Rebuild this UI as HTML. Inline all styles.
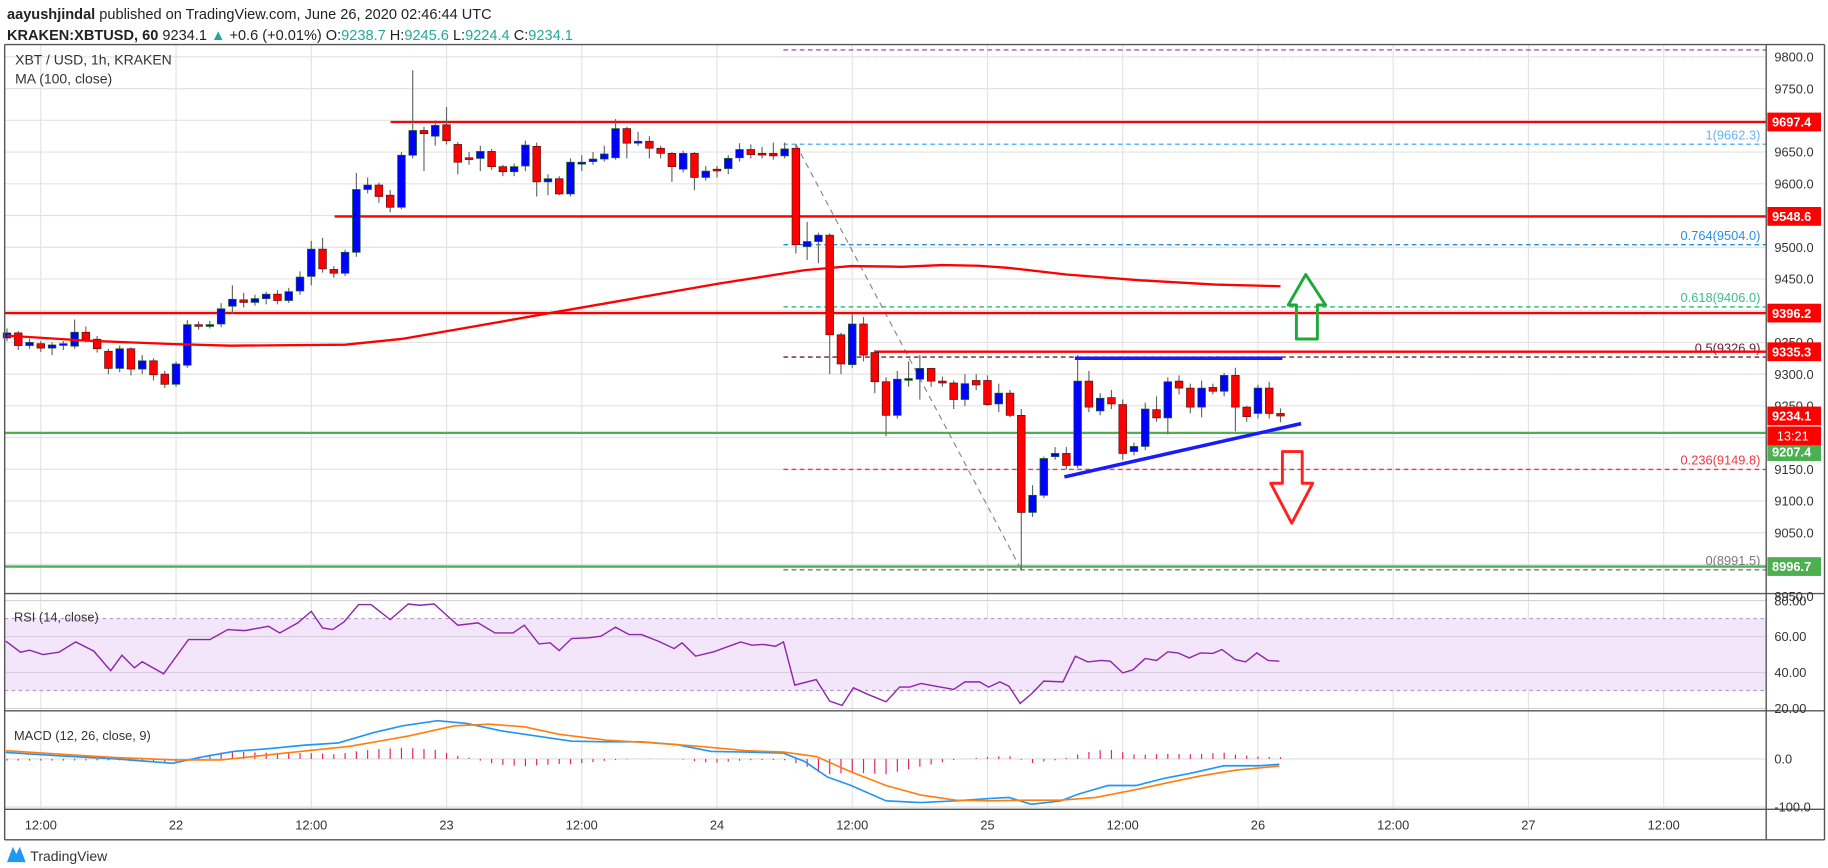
<!DOCTYPE html>
<html><head><meta charset="utf-8"><style>
html,body{margin:0;padding:0;background:#fff;width:1828px;height:868px;overflow:hidden}
svg{display:block}
text{font-family:"Liberation Sans",sans-serif}
</style></head><body>
<svg id="chart" width="1828" height="868" viewBox="0 0 1568 740" preserveAspectRatio="none" xmlns="http://www.w3.org/2000/svg">
<text x="6" y="16" font-size="12.5" fill="#222"><tspan font-weight="bold">aayushjindal</tspan> published on TradingView.com, June 26, 2020 02:46:44 UTC</text>
<text x="6" y="34" font-size="12.5" fill="#222"><tspan font-weight="bold">KRAKEN:XBTUSD, 60</tspan> 9234.1 <tspan fill="#26a69a">▲</tspan> +0.6 (+0.01%) O:<tspan fill="#26a69a">9238.7</tspan> H:<tspan fill="#26a69a">9245.6</tspan> L:<tspan fill="#26a69a">9224.4</tspan> C:<tspan fill="#26a69a">9234.1</tspan></text>
<g id="grid"></g>
<g id="main"></g>
<g id="rsi"></g>
<g id="macd"></g>
<g id="axes"></g>
</svg>
<script>
const candleHours=[-3,-2,-1,0,1,2,3,4,5,6,7,8,9,10,11,12,13,14,15,16,17,18,19,20,21,22,23,24,25,26,27,28,29,30,31,32,33,34,35,36,37,38,39,40,41,42,43,44,45,46,47,48,49,50,51,52,53,54,55,56,57,58,59,60,61,62,63,64,65,66,67,68,69,70,71,72,73,74,75,76,77,78,79,80,81,82,83,84,85,86,87,88,89,90,91,92,93,94,95,96,97,98,99,100,101,102,103,104,105,106,107,108,109,110];
const opens=[9357,9365,9345,9348,9341,9347,9344,9366,9355,9336,9309,9340,9308,9321,9300,9284,9314,9378,9377,9379,9407,9417,9413,9419,9426,9416,9431,9454,9497,9465,9459,9492,9591,9598,9582,9563,9645,9684,9675,9693,9662,9641,9640,9651,9627,9619,9628,9659,9603,9608,9584,9631,9635,9639,9641,9687,9664,9667,9656,9648,9623,9648,9610,9623,9624,9641,9654,9648,9648,9644,9656,9501,9509,9519,9362,9315,9379,9334,9288,9235,9292,9292,9309,9289,9286,9260,9290,9290,9253,9270,9235,9082,9109,9170,9175,9156,9289,9242,9263,9252,9178,9186,9244,9231,9289,9278,9248,9279,9273,9298,9248,9238,9278,9238];
const closes=[9365,9345,9350,9341,9346,9348,9366,9355,9340,9309,9340,9308,9321,9299,9284,9316,9378,9377,9378,9403,9418,9413,9419,9426,9416,9430,9453,9497,9466,9459,9492,9591,9598,9580,9563,9645,9684,9679,9692,9668,9634,9640,9651,9627,9619,9627,9661,9603,9608,9584,9634,9634,9639,9647,9687,9664,9667,9656,9648,9627,9648,9610,9620,9622,9640,9654,9646,9646,9644,9655,9504,9509,9519,9362,9316,9379,9330,9288,9235,9292,9293,9309,9289,9286,9260,9285,9283,9252,9270,9235,9082,9109,9167,9175,9156,9289,9248,9262,9253,9175,9186,9245,9231,9288,9278,9248,9278,9273,9298,9248,9233,9278,9238,9234];
const highs=[9372,9368,9356,9352,9350,9352,9386,9375,9360,9340,9345,9342,9330,9325,9305,9320,9385,9383,9384,9412,9440,9428,9425,9430,9432,9436,9462,9510,9515,9470,9496,9617,9610,9602,9590,9650,9779,9690,9700,9721,9666,9650,9660,9655,9630,9632,9668,9665,9615,9612,9640,9645,9650,9660,9702,9690,9682,9675,9660,9650,9652,9650,9628,9628,9645,9664,9662,9658,9665,9665,9662,9540,9523,9522,9365,9395,9390,9338,9295,9305,9320,9330,9310,9296,9290,9300,9300,9298,9285,9275,9245,9125,9170,9185,9185,9330,9305,9270,9275,9260,9192,9255,9265,9295,9298,9285,9290,9285,9302,9310,9250,9283,9288,9246];
const lows=[9352,9338,9340,9335,9330,9338,9340,9350,9334,9300,9303,9298,9300,9290,9278,9280,9310,9370,9372,9374,9395,9405,9408,9410,9410,9412,9425,9440,9460,9452,9455,9485,9585,9570,9555,9560,9640,9620,9660,9662,9615,9630,9620,9622,9612,9612,9620,9580,9582,9582,9580,9620,9630,9635,9638,9640,9660,9640,9640,9603,9618,9590,9605,9610,9615,9635,9640,9640,9638,9640,9490,9480,9475,9300,9300,9310,9320,9270,9202,9230,9280,9260,9280,9280,9245,9250,9275,9250,9240,9232,8991,9075,9105,9165,9150,9152,9240,9235,9245,9165,9172,9180,9225,9205,9268,9238,9232,9268,9265,9210,9225,9230,9230,9224];
const maHours=[-3,4,11.6,16.8,27,32,37.2,44.8,52.5,60.2,67.8,71.9,76.4,80,83.2,85.8,91,97.4,104.2,110];
const maValues=[9360.7,9352.8,9347.5,9344.8,9346.4,9355.4,9371.3,9395.1,9418.9,9442.8,9463.9,9470.3,9469.2,9471.9,9470.8,9467.6,9457,9448,9441.2,9438.5];
const rsiHours=[-3.1,-1.8,-1,0.2,1.6,3.1,4.7,6.2,7.2,8.3,9,10.9,13.1,15,16.6,18.1,20.2,21.2,22.8,24,25,25.9,26.9,28.2,29.3,31,32.6,33.6,34.9,37,38.8,40.3,41.9,42.9,44.2,45.2,46,47.1,48.6,49.7,51,52.2,53.3,54.8,56.2,56.9,58.1,59.7,62.1,63.1,64.1,65.2,65.9,66.9,68.8,70,71.1,72.1,73.4,75,76.2,77.1,78.1,79.4,81,82,83.3,84.1,85.1,85.9,86.9,87.9,89,90.7,91.8,92.9,94.1,94.9,96,96.9,98,99,100,100.9,101.9,102.9,104,104.8,106,106.9,107.9,108.9,109.9];
const rsiValues=[57.4,51.3,52.4,50,51.3,57,51.9,41,49.6,42.6,46,39.3,58.3,58.3,63.9,63.3,65.7,62,67.6,74,64.8,63.9,68.1,77.8,77.8,69.4,78.1,77.4,78.1,66.3,67.6,62,62,66.3,55.9,56.5,52.2,58.9,59.3,60.2,65.2,61.1,61.1,57.4,53.3,56.5,49.1,51.5,57,55.2,55.6,54.6,57,33,36.1,24.1,21.7,31.5,27.8,23.7,31.9,31.9,33.9,32.4,30.6,34.8,34.8,31.9,34.8,32.4,22.8,28.1,35.2,34.8,49.1,45.9,46.7,46.3,39.8,41.5,47.8,46.7,51.5,50.9,48.1,50.9,50.6,52.8,47.2,45.9,50.9,46.7,46.3];
const macdHours=[-3.1,1.6,6.7,11.7,14.5,17.1,20.2,23.3,26.4,29.5,32.1,35.2,37.8,40.9,44,47.1,50.2,53.3,56.4,59.5,62.6,65.9,67.8,69.8,71.9,75,78.1,81.2,84.3,85.9,87.9,90.5,92.1,94.7,97.2,99.8,101.9,105,108.1,109.9];
const macdValues=[13.5,6.4,0,-9.2,5,15.6,21.3,28.4,33.3,54.6,68.8,79.4,73.8,58.2,47.5,36.9,35.5,35.5,29.8,15.6,14.2,12.1,-5.7,-37.6,-55.3,-87.2,-90.8,-87.2,-82.3,-80.1,-94.3,-87.2,-73,-55.3,-55.3,-39.7,-30.5,-14.2,-14.2,-11.3];
const signalHours=[-3.1,2.6,6.7,11.9,16,20.2,27.4,32.6,36.7,39.8,42.9,46,50.2,54.3,58.4,62.6,65.9,68.8,71.9,75,78.1,81.2,84.3,87.4,90.5,93.6,96.7,99.8,102.9,106,109.9];
const signalValues=[17,8.5,2.8,-2.1,-2.1,8.5,26.2,47.5,68.8,72.3,66.7,51.1,39,33.3,26.2,17,14.2,5,-27,-55.3,-75.2,-85.8,-87.2,-85.8,-85.8,-80.1,-66,-50.4,-35.5,-23.4,-14.9];
const priceTicks=[9800,9750,9700,9650,9600,9550,9500,9450,9400,9350,9300,9250,9200,9150,9100,9050,9000,8950,8900,8850];
const timeTicks=[0,12,24,36,48,60,72,84,96,108,120,132,144];
const timeLabels=["12:00","22","12:00","23","12:00","24","12:00","25","12:00","26","12:00","27","12:00"];
const rsiTicks=[80,60,40,20];
const macdTicks=[0,-100];

const NS="http://www.w3.org/2000/svg";
const PL=4,PR=1515,MT=38,MB=506,RT=507,RB=606,CT=607,CB=690;
const X=h=>35+h*9.667;
const Y=p=>104+(9697.4-p)*0.5409;
const RY=v=>604-(v-20)*1.533;
const MY=v=>647-v*0.41;
function mk(parent,tag,attrs){const e=document.createElementNS(NS,tag);for(const k in attrs)e.setAttribute(k,attrs[k]);document.getElementById(parent).appendChild(e);return e;}
function interp(hs,vs,h){if(h<=hs[0])return vs[0];for(let i=1;i<hs.length;i++){if(h<=hs[i]){const t=(h-hs[i-1])/(hs[i]-hs[i-1]);return vs[i-1]+t*(vs[i]-vs[i-1]);}}return vs[vs.length-1];}

// grid
timeTicks.forEach(h=>{const l=mk('grid','line',{x1:X(h),x2:X(h),y1:MT,y2:CB,stroke:'#e3e3e3','stroke-width':1});

});
priceTicks.forEach(p=>{if(Y(p)<MT||Y(p)>MB)return;const l=mk('grid','line',{x1:PL,x2:PR,y1:Y(p),y2:Y(p),stroke:'#e3e3e3','stroke-width':1});

});
// RSI band
{const b=mk('rsi','rect',{x:PL,y:RY(70),width:PR-PL,height:RY(30)-RY(70),fill:'#f3e6fb'});

}
rsiTicks.forEach(v=>{const l=mk('rsi','line',{x1:PL,x2:PR,y1:RY(v),y2:RY(v),stroke:'#d8d0dc','stroke-width':1});

});
[70,30].forEach(v=>{const l=mk('rsi','line',{x1:PL,x2:PR,y1:RY(v),y2:RY(v),stroke:'#b79cc2','stroke-width':1,'stroke-dasharray':'3,3'});

});
macdTicks.forEach(v=>{const l=mk('macd','line',{x1:PL,x2:PR,y1:MY(v),y2:MY(v),stroke:'#dedede','stroke-width':1});

});

// purple dashed top
{const l=mk('main','line',{x1:672,x2:PR,y1:Y(9811),y2:Y(9811),stroke:'#9c27b0','stroke-width':1,'stroke-dasharray':'4,3'});

}
// fib levels
const fibLevels=[["1(9662.3)",9662.3,"#64b5f6"],["0.764(9504.0)",9504,"#2a8fd6"],["0.618(9406.0)",9406,"#3dbb8f"],["0.5(9326.9)",9326.9,"#6d1b3a"],["0.236(9149.8)",9149.8,"#f23645"],["0(8991.5)",8991.5,"#777"]];
fibLevels.forEach(f=>{const l=mk('main','line',{x1:672,x2:PR,y1:Y(f[1]),y2:Y(f[1]),stroke:f[2],'stroke-width':1.2,'stroke-dasharray':'4,3'});


const t=mk('main','text',{x:1510,y:Y(f[1])-4,'font-size':11,fill:f[2],'text-anchor':'end'});t.textContent=f[0];

});
// fib diagonal
{const l=mk('main','line',{x1:X(67),y1:Y(9662.3),x2:X(87),y2:Y(8991.5),stroke:'#888','stroke-width':1,'stroke-dasharray':'5,4'});

}
// levels
const levelLines=[[9697.4,335,'#ff0000'],[9548.6,287,'#ff0000'],[9396.2,4,'#ff0000'],[9335.3,750,'#ff0000'],[9207.4,4,'#4caf50'],[8996.7,4,'#4caf50']];
levelLines.forEach(L=>{const l=mk('main','line',{x1:L[1],x2:PR,y1:Y(L[0]),y2:Y(L[0]),stroke:L[2],'stroke-width':2});

});
// candles
candleHours.forEach((h,i)=>{const x=X(h),o=opens[i],c=closes[i];
const w=mk('main','line',{x1:x,x2:x,y1:Y(highs[i]),y2:Y(lows[i]),stroke:'#666','stroke-width':1});


const top=Y(Math.max(o,c)),bot=Y(Math.min(o,c));
const b=mk('main','rect',{x:x-3.3,y:top,width:6.6,height:Math.max(1.5,bot-top),fill:c>=o?'#0000ff':'#ff0000',stroke:c>=o?'#1b5e20':'#5d1010','stroke-width':0.6});

});
// MA
{let d='';maHours.forEach((h,i)=>{d+=(i?'L':'M')+X(h)+','+Y(maValues[i]);});
const p=mk('main','path',{d:d,fill:'none',stroke:'#ff0000','stroke-width':2});

}
// blue trend lines
{const l=mk('main','line',{x1:922,x2:1100,y1:Y(9325),y2:Y(9325),stroke:'#1a1aff','stroke-width':3});


const l2=mk('main','line',{x1:913,x2:1116,y1:Y(9138),y2:Y(9222),stroke:'#1a1aff','stroke-width':3});

}
// arrows
{const a=mk('main','path',{d:'M1120,234 L1137,260 L1130,260 L1130,289 L1112,289 L1112,260 L1105,260 Z',fill:'none',stroke:'#1fa83a','stroke-width':2.5,'stroke-linejoin':'round'});


const b=mk('main','path',{d:'M1100,385 L1117,385 L1117,412 L1126,412 L1108,446 L1090,412 L1100,412 Z',fill:'none',stroke:'#ff2020','stroke-width':2.5,'stroke-linejoin':'round'});

}
// RSI line
{let d='';rsiHours.forEach((h,i)=>{d+=(i?'L':'M')+X(h)+','+RY(rsiValues[i]);});
const p=mk('rsi','path',{d:d,fill:'none',stroke:'#8e24aa','stroke-width':1.2});

}
// MACD histogram
candleHours.forEach(h=>{const v=interp(macdHours,macdValues,h)-interp(signalHours,signalValues,h);
const r=mk('macd','line',{x1:X(h),x2:X(h),y1:MY(0),y2:MY(v),stroke:'#e91e63','stroke-width':1});

});
{let d='';macdHours.forEach((h,i)=>{d+=(i?'L':'M')+X(h)+','+MY(macdValues[i]);});
const p=mk('macd','path',{d:d,fill:'none',stroke:'#2196f3','stroke-width':1.4});


let d2='';signalHours.forEach((h,i)=>{d2+=(i?'L':'M')+X(h)+','+MY(signalValues[i]);});
const s=mk('macd','path',{d:d2,fill:'none',stroke:'#ff7f0e','stroke-width':1.4});

}

// frame + separators
[[PL,MT,1565,MT],[PL,MT,PL,716],[PL,MB,1565,MB],[PL,RB,1565,RB],[PL,CB,1565,CB],[PL,716,1565,716],[PR,MT,PR,716],[1565,MT,1565,716]].forEach(s=>{
const l=mk('axes','line',{x1:s[0],y1:s[1],x2:s[2],y2:s[3],stroke:'#555','stroke-width':1.2});

});
priceTicks.forEach(p=>{const y=Y(p);if(y<MT+5||y>MB+4)return;const t=mk('axes','text',{x:1522,y:y+4,'font-size':11,fill:'#333'});t.textContent=p.toFixed(1);

});
rsiTicks.forEach(v=>{const t=mk('axes','text',{x:1522,y:RY(v)+4,'font-size':11,fill:'#333'});t.textContent=v.toFixed(2);

});
macdTicks.forEach(v=>{const t=mk('axes','text',{x:1522,y:MY(v)+4,'font-size':11,fill:'#333'});t.textContent=v.toFixed(1);

});
timeTicks.forEach((h,i)=>{const t=mk('axes','text',{x:X(h),y:707,'font-size':11,fill:'#333','text-anchor':'middle'});t.textContent=timeLabels[i];

});
// price tags
const tags=[["9697.4",9697.4,"#ff0000"],["9548.6",9548.6,"#ff0000"],["9396.2",9396.2,"#ff0000"],["9335.3",9335.3,"#ff0000"],["9234.1",9234.1,"#ff0000"],["9207.4",9207.4,"#4caf50"],["8996.7",8996.7,"#4caf50"]];
tags.forEach(g=>{let y=Y(g[1]);if(g[0]==="9207.4")y=Y(g[1])+16;
const r=mk('axes','rect',{x:1516,y:y-8,width:46,height:16,fill:g[2]});


const t=mk('axes','text',{x:1520,y:y+4,'font-size':11,fill:'#fff','font-weight':'bold'});t.textContent=g[0];

});
{const y=Y(9234.1)+17;const r=mk('axes','rect',{x:1516,y:y-8,width:46,height:16,fill:'#ff0000'});


const t=mk('axes','text',{x:1524,y:y+4,'font-size':11,fill:'#fff'});t.textContent='13:21';

}
// legends
[["XBT / USD, 1h, KRAKEN",13,55,12],["MA (100, close)",13,71,12],["RSI (14, close)",12,530,11],["MACD (12, 26, close, 9)",12,631,11]].forEach(L=>{
const t=mk('axes','text',{x:L[1],y:L[2],'font-size':L[3],fill:'#333'});t.textContent=L[0];

});
// logo
{const p=mk('axes','path',{d:'M6,735 L11,722 L14,728 L17,722 L22,735 Z',fill:'#2196f3'});


const t=mk('axes','text',{x:26,y:734,'font-size':12,fill:'#333'});t.textContent='TradingView';

}
</script>
</body></html>
